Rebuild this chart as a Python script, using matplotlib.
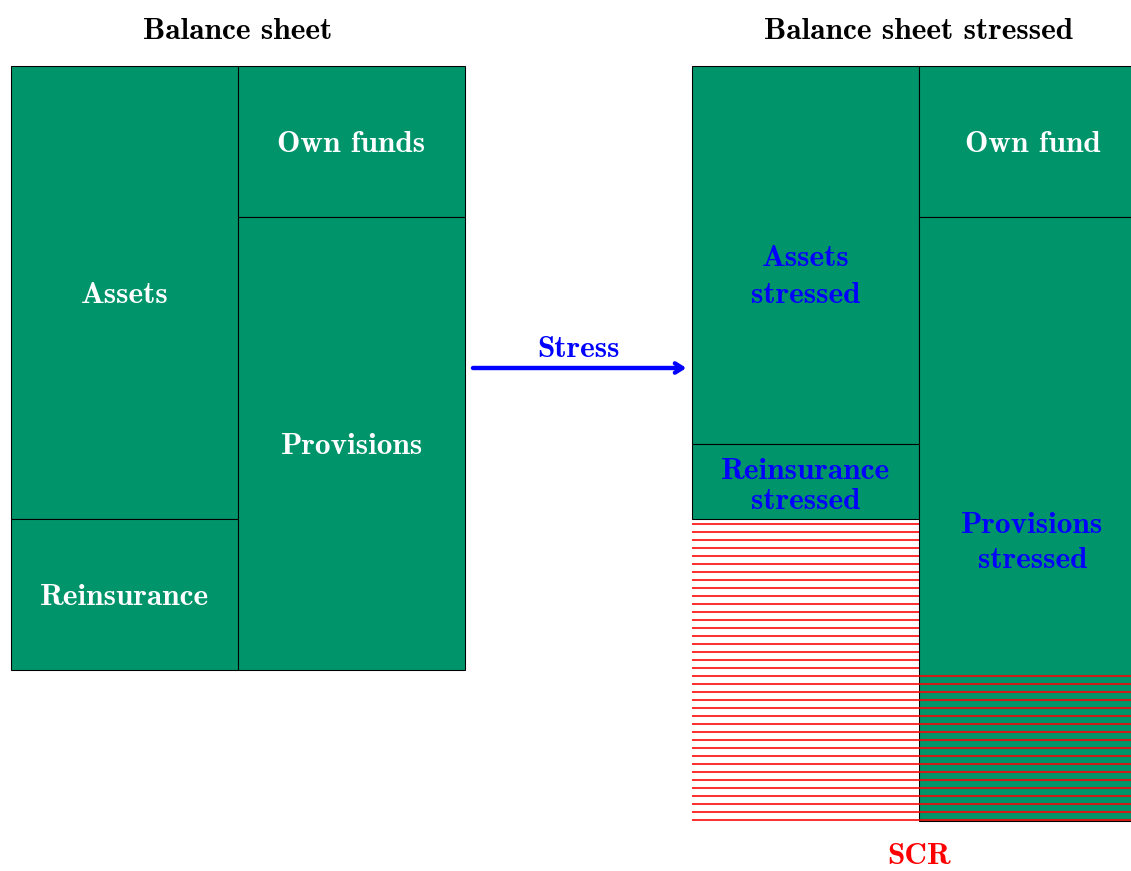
import matplotlib
matplotlib.use('Agg')
import matplotlib.pyplot as plt

# balance sheet blocks (heights in units, stacked from the top)
assets_left = ['Assets', 'Reinsurance']
assets_left_val = [3, 1]
liab_left = ['Own funds', 'Provisions']
liab_left_val = [1, 3]

assets_right = ['Assets\nstressed', 'Reinsurance\nstressed']
assets_right_val = [2.5, 0.5]
liab_right = ['Own fund', 'Provisions\nstressed']
liab_right_val = [1, 4]

top = 4
green = '#00946A'
font = 'cmb10'
fs = 23.5
dy = -0.018  # small nudge so text sits like the tikz nodes

fig = plt.figure(figsize=(1131 / 96, 871 / 96), dpi=96)
ax = fig.add_axes([0, 0, 1, 1])
ax.set_xlim(-11 / 227, 1120 / 227)
ax.set_ylim(top - 805 / 151, top + 66 / 151)
ax.axis('off')


def stack(x, names, vals, colors, offsets, spacing):
    y = top
    for name, v, c, off, ls in zip(names, vals, colors, offsets, spacing):
        ax.bar(x, -v, bottom=y, width=1, align='edge', color=green,
               edgecolor='black', linewidth=0.8, zorder=2)
        ax.text(x + 0.5, y - v / 2 + off + dy, name, color=c, ha='center',
                va='center', fontsize=fs, family=font, linespacing=ls, zorder=4)
        y -= v


stack(0, assets_left, assets_left_val, ['white', 'white'], [0, 0], [1.2, 1.2])
stack(1, liab_left, liab_left_val, ['white', 'white'], [0, 0], [1.2, 1.2])
stack(3, assets_right, assets_right_val, ['blue', 'blue'], [-0.13, -0.015], [1.44, 1.13])
stack(4, liab_right, liab_right_val, ['white', 'blue'], [0, -0.14], [1.2, 1.4])

# SCR hatching: gap between stressed assets and stressed liabilities
plt.rcParams['hatch.linewidth'] = 1.2
bottom_liab = top - sum(liab_right_val)
ax.bar(3, (top - sum(assets_right_val)) - bottom_liab, bottom=bottom_liab,
       width=1, align='edge', fill=False, hatch='--', edgecolor='red',
       linewidth=0, zorder=3)
ax.bar(4, (top - sum(liab_left_val)) - bottom_liab, bottom=bottom_liab,
       width=1, align='edge', fill=False, hatch='--', edgecolor='red',
       linewidth=0, zorder=3)

# titles
ax.text(1, top + 0.245 + dy, 'Balance sheet', ha='center', va='center',
        fontsize=fs, family=font, color='black')
ax.text(4, top + 0.245 + dy, 'Balance sheet stressed', ha='center', va='center',
        fontsize=fs, family=font, color='black')

# stress arrow
ax.annotate('', xy=(2.975, 2), xytext=(2.035, 2),
            arrowprops=dict(arrowstyle='->,head_length=0.55,head_width=0.35',
                            lw=3.3, color='blue', shrinkA=0, shrinkB=0))
ax.text(2.502, 2.14 + dy, 'Stress', ha='center', va='center', fontsize=fs,
        family=font, color='blue')

ax.text(4, bottom_liab - 0.285, 'SCR', ha='center', va='baseline', fontsize=fs,
        family=font, color='red')

plt.savefig('out.png', dpi=96)
